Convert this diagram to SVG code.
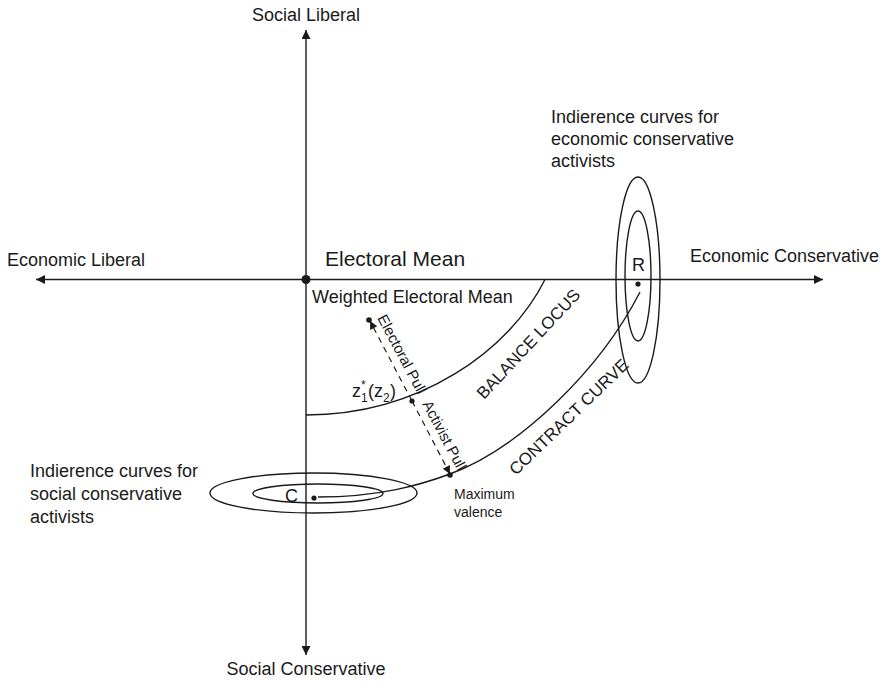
<svg xmlns="http://www.w3.org/2000/svg" width="888" height="683" viewBox="0 0 888 683">
<style>
text{font-family:"Liberation Sans",Arial,sans-serif;fill:#1a1a1a}
.lbl{font-size:18px}
.sm{font-size:15px}
.cap{font-size:17px}
.ln{fill:none;stroke:#1a1a1a;stroke-width:1.4}
.dash{fill:none;stroke:#1a1a1a;stroke-width:1.2;stroke-dasharray:6 5}
.dot{fill:#1a1a1a}
</style>
<defs>
<marker id="ax" viewBox="0 0 10 10" refX="10" refY="5" markerWidth="13" markerHeight="9" markerUnits="userSpaceOnUse" orient="auto-start-reverse"><path d="M0,0 L10,5 L0,10 z" fill="#1a1a1a"/></marker>
<marker id="pa" viewBox="0 0 10 10" refX="10" refY="5" markerWidth="11" markerHeight="8" markerUnits="userSpaceOnUse" orient="auto"><path d="M0,0 L10,5 L0,10 z" fill="#1a1a1a"/></marker>
</defs>
<rect width="888" height="683" fill="#ffffff"/>
<g id="connectors">
<line class="ln" x1="36" y1="279.5" x2="823" y2="279.5" marker-start="url(#ax)" marker-end="url(#ax)"/>
<line class="ln" x1="306" y1="30" x2="306" y2="655" marker-start="url(#ax)" marker-end="url(#ax)"/>
<path id="balance" class="ln" d="M306,415 C420,415 510,350 545,279.5"/>
<path id="contract" class="ln" d="M318,497 C380,497 420,485 450,474 C520,448 600,370 640,292"/>
<line class="dash" x1="412" y1="401" x2="370" y2="321" marker-end="url(#pa)"/>
<line class="dash" x1="412" y1="401" x2="450" y2="474" marker-end="url(#pa)"/>
</g>
<g id="axis-labels">
<text class="lbl" x="306" y="21" text-anchor="middle">Social Liberal</text>
<text class="lbl" x="306" y="675" text-anchor="middle">Social Conservative</text>
<text class="lbl" x="7" y="266">Economic Liberal</text>
<text class="lbl" x="690" y="262">Economic Conservative</text>
</g>
<g id="electoral-mean">
<circle class="dot" cx="306" cy="279.5" r="4.5"/>
<text x="325" y="266" font-size="21">Electoral Mean</text>
<text class="lbl" x="312" y="303">Weighted Electoral Mean</text>
</g>
<g id="z-point">
<circle class="dot" cx="412" cy="401" r="2.6"/>
<text class="lbl" x="352" y="397">z</text>
<text font-size="12" x="361" y="389">*</text>
<text font-size="12" x="361" y="402">1</text>
<text class="lbl" x="368" y="397">(z</text>
<text font-size="12" x="383" y="402">2</text>
<text class="lbl" x="390" y="397">)</text>
</g>
<g id="electoral-pull">
<circle class="dot" cx="369" cy="320" r="2.8"/>
<text class="sm" transform="translate(377,318) rotate(62)">Electoral Pull</text>
</g>
<g id="activist-pull">
<text class="sm" transform="translate(422,404) rotate(62)">Activist Pull</text>
</g>
<g id="balance-locus-label">
<text class="cap" transform="translate(484,400) rotate(-47)">BALANCE LOCUS</text>
</g>
<g id="contract-curve-label">
<text class="cap" transform="translate(516,476) rotate(-44)">CONTRACT CURVE</text>
</g>
<g id="max-valence">
<circle class="dot" cx="450" cy="475" r="2.8"/>
<text font-size="14" x="454" y="499">Maximum</text>
<text font-size="14" x="454" y="517">valence</text>
</g>
<g id="node-R">
<ellipse class="ln" cx="638" cy="280" rx="22" ry="103"/>
<ellipse class="ln" cx="638" cy="276" rx="13" ry="65"/>
<circle class="dot" cx="638" cy="284" r="2.6"/>
<text class="lbl" x="632" y="271">R</text>
<text class="lbl" x="551" y="123">Indierence curves for</text>
<text class="lbl" x="551" y="145">economic conservative</text>
<text class="lbl" x="551" y="167">activists</text>
</g>
<g id="node-C">
<ellipse class="ln" cx="313.5" cy="493" rx="103.5" ry="20"/>
<ellipse class="ln" cx="318" cy="493.5" rx="65" ry="9.5"/>
<circle class="dot" cx="314" cy="498" r="2.6"/>
<text class="lbl" x="285" y="502">C</text>
<text class="lbl" x="30" y="477">Indierence curves for</text>
<text class="lbl" x="30" y="500">social conservative</text>
<text class="lbl" x="30" y="523">activists</text>
</g>
</svg>
